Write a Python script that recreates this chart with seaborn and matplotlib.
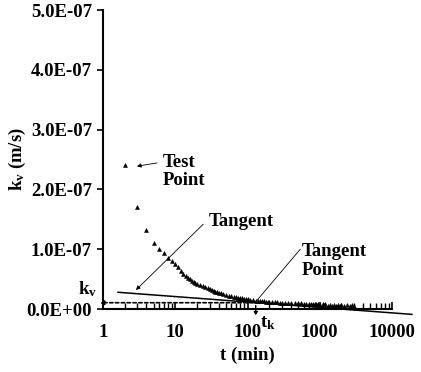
import numpy as np
import pandas as pd
import seaborn as sns
import matplotlib.pyplot as plt
from matplotlib.ticker import FuncFormatter, LogLocator

# values
t_min = [2, 3, 4, 5, 6, 7, 8, 9, 10, 11, 12, 13, 14, 15, 16, 17, 18, 19, 20,
         22, 24, 26, 28, 30, 32, 34, 36, 38, 40, 43, 46, 50, 55, 60, 65, 70,
         75, 80, 85, 90, 95, 100, 110, 120, 130, 140, 150, 160, 170, 180, 190,
         200, 220, 240, 260, 280, 300, 330, 360, 400, 450, 500, 550, 600, 650,
         700, 750, 800, 850, 900, 950, 1000, 1100, 1150, 1200, 1300, 1400, 1500,
         1600, 1700, 1800, 1900, 2000, 2200, 2400, 2600, 2800, 3000]
kv_e8 = [24.0, 17.0, 13.2, 11.1, 10.0, 9.4, 8.6, 8.0, 7.45, 6.95, 6.4, 5.9, 5.55,
         5.25, 5.0, 4.75, 4.55, 4.4, 4.25, 4.0, 3.8, 3.6, 3.45, 3.3, 3.15, 3.0,
         2.9, 2.8, 2.72, 2.6, 2.5, 2.38, 2.25, 2.12, 2.03, 1.95, 1.88, 1.82, 1.76,
         1.7, 1.65, 1.6, 1.52, 1.45, 1.4, 1.36, 1.32, 1.29, 1.26, 1.23, 1.2, 1.18,
         1.14, 1.11, 1.09, 1.07, 1.05, 1.03, 1.01, 0.99, 0.97, 0.95, 0.93, 0.9,
         0.88, 0.86, 0.84, 0.82, 0.8, 0.78, 0.76, 0.74, 0.82, 0.6, 0.78, 0.56,
         0.75, 0.55, 0.72, 0.52, 0.7, 0.5, 0.68, 0.48, 0.66, 0.46, 0.64, 0.45]

# tangent line ends and tangent point
tangent_t = [1.6, 19000]
tangent_k = [2.8e-8, -0.9e-8]
t_k = 130
kv_val = 1.05e-8

df = pd.DataFrame({'t': t_min, 'k': np.array(kv_e8) * 1e-8})

sns.set_theme(style='white')
plt.rcParams['font.family'] = ['Liberation Serif', 'DejaVu Serif']
plt.rcParams['font.weight'] = 'bold'
plt.rcParams['text.color'] = 'black'
plt.rcParams['axes.labelcolor'] = 'black'
plt.rcParams['mathtext.fontset'] = 'custom'
plt.rcParams['mathtext.rm'] = 'Liberation Serif:bold'
plt.rcParams['mathtext.it'] = 'Liberation Serif:bold'
plt.rcParams['mathtext.bf'] = 'Liberation Serif:bold'

fs = 13.5

fig = plt.figure(figsize=(4.21, 3.72), dpi=100)
ax = fig.add_axes([103 / 421, 1 - 309 / 372, 289 / 421, 299 / 372])

sns.scatterplot(data=df, x='t', y='k', marker='^', s=8, color='black',
                edgecolor='black', linewidth=0.4, ax=ax)

# tangent line
ax.plot(tangent_t, tangent_k, color='black', lw=1.1, clip_on=False)

ax.set_xscale('log')
ax.set_xlim(1, 10000)
ax.set_ylim(0, 5e-7)
ax.set_yticks(np.arange(0, 5.01e-7, 1e-7))
ax.yaxis.set_major_formatter(FuncFormatter(lambda v, p: '%.1E' % v))
ax.xaxis.set_major_formatter(FuncFormatter(lambda v, p: '%d' % v))
ax.xaxis.set_minor_locator(LogLocator(base=10, subs=np.arange(2, 10)))

for s in ['top', 'right']:
    ax.spines[s].set_visible(False)
for s in ['left', 'bottom']:
    ax.spines[s].set_color('black')
    ax.spines[s].set_linewidth(1.5)

ax.tick_params(axis='x', which='major', direction='in', length=5, width=1.2,
               colors='black', labelsize=fs, pad=11, bottom=True)
ax.tick_params(axis='x', which='minor', direction='in', length=4, width=1,
               colors='black', bottom=True)
ax.tick_params(axis='y', which='major', direction='out', length=4, width=1.2,
               colors='black', labelsize=fs, pad=4, left=True)

ax.set_xlabel('t (min)', fontsize=fs, fontweight='bold', labelpad=4)
ax.set_ylabel('$k_v$ (m/s)', fontsize=fs, fontweight='bold', labelpad=-1)

# annotations
ax.text(6.7, 2.6e-7, 'Test\nPoint', fontsize=fs, fontweight='bold',
        ha='left', va='top', linespacing=1.15)
ax.annotate('', xy=(2.7, 2.38e-7), xytext=(6.1, 2.45e-7),
            arrowprops=dict(arrowstyle='-|>', color='black', lw=0.6,
                            mutation_scale=6))

ax.text(29, 1.6e-7, 'Tangent', fontsize=fs, fontweight='bold',
        ha='left', va='top')
ax.annotate('', xy=(2.68, 2.85e-8), xytext=(26, 1.45e-7),
            arrowprops=dict(arrowstyle='-|>', color='black', lw=0.6,
                            mutation_scale=6))

ax.text(570, 1.1e-7, 'Tangent\nPoint', fontsize=fs, fontweight='bold',
        ha='left', va='top', linespacing=1.15)
ax.plot([538, t_k], [1.0e-7, 1.2e-8], color='black', lw=0.6)

# dotted k_v and t_k arrows
ax.annotate('', xy=(0.82, kv_val), xytext=(t_k, kv_val), annotation_clip=False,
            arrowprops=dict(arrowstyle='-|>', color='black', lw=1.2,
                            linestyle=(0, (2, 1.5)), mutation_scale=6))
ax.annotate('', xy=(t_k, -1.6e-8), xytext=(t_k, kv_val), annotation_clip=False,
            arrowprops=dict(arrowstyle='-|>', color='black', lw=1.0,
                            linestyle=(0, (1.5, 1.5)), mutation_scale=5))
ax.text(-0.052, 0.066, '$k_v$', transform=ax.transAxes, fontsize=fs,
        ha='center', va='center')
ax.text(190, -2.3e-8, '$t_k$', fontsize=fs, ha='center', va='center')

fig.savefig('out.png', dpi=100)
